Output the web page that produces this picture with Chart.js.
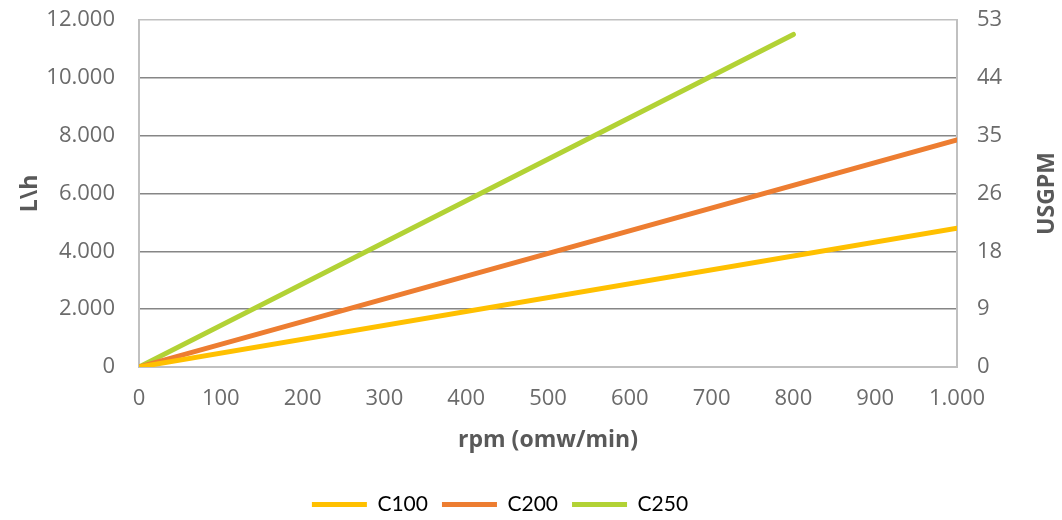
<!DOCTYPE html>
<html>
<head>
<meta charset="utf-8">
<script src="https://cdn.jsdelivr.net/npm/chart.js@4"></script>
<style>
  html, body { margin: 0; padding: 0; background: #fff; }
  #wrap { width: 1062px; height: 520px; }
</style>
</head>
<body>
<div id="wrap"><canvas id="chart" width="1062" height="520"></canvas></div>
<script>
// rpm values per series (x axis)
const rpmC100 = [0, 1000];
const rpmC200 = [0, 1000];
const rpmC250 = [0, 800];
// flow in L/h
const flowC100 = [0, 4800];
const flowC200 = [0, 7850];
const flowC250 = [0, 11500];
// right axis labels (USGPM) at the left axis grid lines
const usgpmLabels = ['0', '9', '18', '26', '35', '44', '53'];

const seriesNames = ['C100', 'C200', 'C250'];
const seriesColors = ['#FFC000', '#ED7D31', '#B2D235'];

const toPoints = (xs, ys) => xs.map((x, i) => ({ x: x, y: ys[i] }));
const dotThousands = v => String(v).replace(/\B(?=(\d{3})+(?!\d))/g, '.');

const tickFont = { family: 'Open Sans', size: 22 };
const titleFont = { family: 'Open Sans', size: 23, weight: 'bold' };
const textGray = '#6b6b6b';
const titleGray = '#595959';
const edgeGray = '#c0c0c0';
const gridGray = '#868686';

const extras = {
  id: 'extras',
  afterLayout(chart) {
    // move the legend a bit, like the original
    const lg = chart.legend;
    lg.left -= 31; lg.right -= 31;
    lg.top += 5; lg.bottom += 5;
  },
  afterDraw(chart) {
    const ctx = chart.ctx;
    const area = chart.chartArea;
    ctx.save();
    ctx.font = 'bold 23px "Open Sans"';
    ctx.fillStyle = titleGray;
    ctx.textAlign = 'center';
    ctx.textBaseline = 'middle';
    ctx.translate(1047, (area.top + area.bottom) / 2);
    ctx.rotate(-Math.PI / 2);
    ctx.fillText('USGPM', 0, 0);
    ctx.restore();
  }
};

// fixed axis widths, no extra top/bottom room for the labels
const fixWidth = w => s => { s.width = w; s.paddingTop = 0; s.paddingBottom = 0; };

const datasets = [
  toPoints(rpmC100, flowC100),
  toPoints(rpmC200, flowC200),
  toPoints(rpmC250, flowC250)
].map((pts, i) => ({
  label: seriesNames[i],
  data: pts,
  borderColor: seriesColors[i],
  backgroundColor: seriesColors[i],
  borderWidth: 5,
  borderCapStyle: 'round',
  pointRadius: 0,
  tension: 0
}));

new Chart(document.getElementById('chart').getContext('2d'), {
  type: 'line',
  data: { datasets: datasets },
  plugins: [extras],
  options: {
    responsive: false,
    animation: false,
    devicePixelRatio: 1,
    layout: { padding: { top: 20, left: 0, right: 0, bottom: 0 } },
    plugins: {
      tooltip: { enabled: false },
      legend: {
        position: 'bottom',
        labels: {
          usePointStyle: true,
          pointStyle: 'line',
          pointStyleWidth: 55,
          boxHeight: 5,
          padding: 14,
          color: '#000',
          font: { family: 'Lato', size: 21 }
        }
      }
    },
    scales: {
      x: {
        type: 'linear',
        min: 0,
        max: 1000,
        ticks: { stepSize: 100, padding: 19, color: textGray, font: tickFont, callback: v => dotThousands(v) },
        grid: { display: false, drawTicks: false },
        border: { display: true, color: edgeGray, width: 2 },
        title: { display: true, text: 'rpm (omw/min)', color: titleGray, font: titleFont, padding: { top: 0, bottom: 21 } },
        afterFit: s => { s.height = 108; }
      },
      y: {
        type: 'linear',
        position: 'left',
        min: 0,
        max: 12000,
        ticks: { stepSize: 2000, padding: 24, color: textGray, font: tickFont, callback: v => dotThousands(v) },
        grid: {
          drawTicks: false,
          lineWidth: 1.5,
          color: c => (c.tick && (c.tick.value === 0 || c.tick.value === 12000)) ? edgeGray : gridGray
        },
        border: { display: true, color: edgeGray, width: 2 },
        title: { display: true, text: 'L\\h', color: titleGray, font: titleFont, padding: { top: 17, bottom: 0 } },
        afterFit: fixWidth(139)
      },
      y2: {
        type: 'linear',
        position: 'right',
        min: 0,
        max: 12000,
        ticks: { stepSize: 2000, padding: 20, color: textGray, font: tickFont, callback: (v, i) => usgpmLabels[i] },
        grid: { drawOnChartArea: false, drawTicks: false },
        border: { display: true, color: edgeGray, width: 2 },
        afterFit: fixWidth(105)
      }
    }
  }
});
</script>
</body>
</html>
